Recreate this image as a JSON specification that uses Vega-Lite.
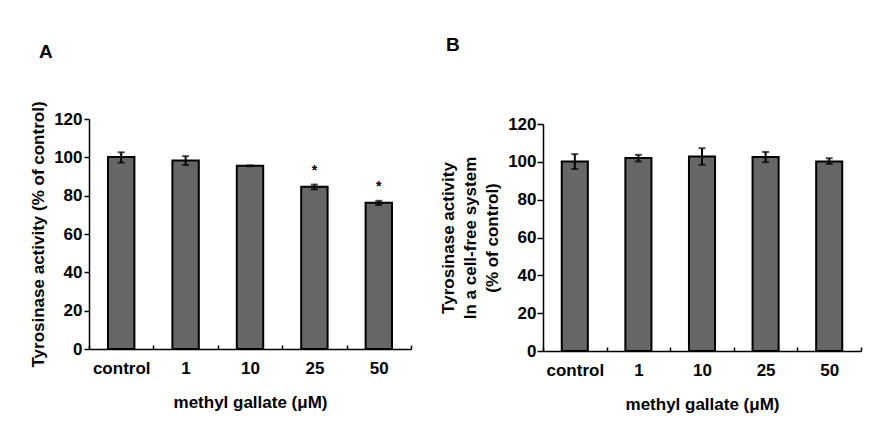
{
  "$schema": "https://vega.github.io/schema/vega-lite/v6.json",
  "background": "white",
  "padding": {"left": 29, "top": 36, "right": 5, "bottom": 5},
  "spacing": 27,
  "config": {
    "font": "Liberation Sans",
    "view": {"stroke": null},
    "axis": {
      "grid": false,
      "labelOverlap": false,
      "titleLineHeight": 22,
      "domainColor": "black", "domainWidth": 1.5,
      "tickColor": "black", "tickWidth": 1.5,
      "labelFont": "Liberation Sans", "labelFontWeight": "bold", "labelFontSize": 17, "labelColor": "black",
      "titleFont": "Liberation Sans", "titleFontWeight": "bold", "titleFontSize": 17, "titleColor": "black"
    },
    "title": {"font": "Liberation Sans", "fontSize": 19, "fontWeight": "bold", "color": "black", "anchor": "start", "frame": "group"}
  },
  "datasets": {
    "a": [
      {"dose": "control", "mean": 100.2, "lo": 97.2, "hi": 102.6, "sig": ""},
      {"dose": "1", "mean": 98.4, "lo": 96.0, "hi": 100.6, "sig": ""},
      {"dose": "10", "mean": 95.6, "lo": 95.4, "hi": 95.8, "sig": ""},
      {"dose": "25", "mean": 84.6, "lo": 83.3, "hi": 85.8, "sig": "*"},
      {"dose": "50", "mean": 76.3, "lo": 75.1, "hi": 77.3, "sig": "*"}
    ],
    "b": [
      {"dose": "control", "mean": 100.2, "lo": 96.2, "hi": 104.1, "sig": ""},
      {"dose": "1", "mean": 102.0, "lo": 100.2, "hi": 103.7, "sig": ""},
      {"dose": "10", "mean": 102.8, "lo": 98.4, "hi": 107.2, "sig": ""},
      {"dose": "25", "mean": 102.6, "lo": 99.8, "hi": 105.2, "sig": ""},
      {"dose": "50", "mean": 100.2, "lo": 98.9, "hi": 101.9, "sig": ""}
    ]
  },
  "hconcat": [
    {
      "width": 322,
      "height": 230,
      "title": {"text": "A", "dx": -50, "offset": 39},
      "data": {"name": "a"},
      "encoding": {
        "x": {
          "field": "dose", "type": "nominal", "sort": null,
          "scale": {"paddingInner": 0, "paddingOuter": 0},
          "axis": {"title": "methyl gallate (μM)", "labelAngle": 0, "tickBand": "extent", "tickSize": -4, "labelPadding": 15, "titlePadding": 18}
        }
      },
      "layer": [
        {
          "mark": {"type": "bar", "width": {"band": 0.41}, "fill": "#666666", "stroke": "black", "strokeWidth": 2},
          "encoding": {
            "y": {
              "field": "mean", "type": "quantitative",
              "scale": {"domain": [0, 120]},
              "axis": {"title": "Tyrosinase activity (% of control)", "values": [0, 20, 40, 60, 80, 100, 120], "labelOverlap": false, "tickSize": 5, "labelPadding": 2, "titlePadding": 6}
            }
          }
        },
        {
          "mark": {"type": "rule", "strokeWidth": 2, "color": "black"},
          "encoding": {
            "y": {"field": "lo", "type": "quantitative", "axis": {"title": "Tyrosinase activity (% of control)", "values": [0, 20, 40, 60, 80, 100, 120], "labelOverlap": false, "tickSize": 5, "labelPadding": 2, "titlePadding": 6}},
            "y2": {"field": "hi"}
          }
        },
        {
          "mark": {"type": "tick", "orient": "horizontal", "size": 7, "thickness": 2, "color": "black"},
          "encoding": {"y": {"field": "hi", "type": "quantitative", "axis": {"title": "Tyrosinase activity (% of control)", "values": [0, 20, 40, 60, 80, 100, 120], "labelOverlap": false, "tickSize": 5, "labelPadding": 2, "titlePadding": 6}}}
        },
        {
          "mark": {"type": "tick", "orient": "horizontal", "size": 7, "thickness": 2, "color": "black"},
          "encoding": {"y": {"field": "lo", "type": "quantitative", "axis": {"title": "Tyrosinase activity (% of control)", "values": [0, 20, 40, 60, 80, 100, 120], "labelOverlap": false, "tickSize": 5, "labelPadding": 2, "titlePadding": 6}}}
        },
        {
          "mark": {"type": "text", "baseline": "middle", "dy": -14, "fontSize": 14, "fontWeight": "bold", "color": "black"},
          "encoding": {"y": {"field": "hi", "type": "quantitative", "axis": {"title": "Tyrosinase activity (% of control)", "values": [0, 20, 40, 60, 80, 100, 120], "labelOverlap": false, "tickSize": 5, "labelPadding": 2, "titlePadding": 6}}, "text": {"field": "sig"}}
        }
      ]
    },
    {
      "width": 318,
      "height": 232,
      "title": {"text": "B", "dx": -97, "offset": 60},
      "data": {"name": "b"},
      "encoding": {
        "x": {
          "field": "dose", "type": "nominal", "sort": null,
          "scale": {"paddingInner": 0, "paddingOuter": 0},
          "axis": {"title": "methyl gallate (μM)", "labelAngle": 0, "tickBand": "extent", "tickSize": -4, "labelPadding": 15, "titlePadding": 18}
        }
      },
      "layer": [
        {
          "mark": {"type": "bar", "width": {"band": 0.41}, "fill": "#666666", "stroke": "black", "strokeWidth": 2},
          "encoding": {
            "y": {
              "field": "mean", "type": "quantitative",
              "scale": {"domain": [0, 120], "range": [232, 5]},
              "axis": {"title": ["Tyrosinase activity", "In a cell-free system", "(% of control)"], "titleLineHeight": 22, "values": [0, 20, 40, 60, 80, 100, 120], "labelOverlap": false, "tickSize": 6, "labelPadding": 1, "titlePadding": 6}
            }
          }
        },
        {
          "mark": {"type": "rule", "strokeWidth": 2, "color": "black"},
          "encoding": {
            "y": {"field": "lo", "type": "quantitative", "axis": {"title": ["Tyrosinase activity", "In a cell-free system", "(% of control)"], "titleLineHeight": 22, "values": [0, 20, 40, 60, 80, 100, 120], "labelOverlap": false, "tickSize": 6, "labelPadding": 1, "titlePadding": 6}},
            "y2": {"field": "hi"}
          }
        },
        {
          "mark": {"type": "tick", "orient": "horizontal", "size": 7, "thickness": 2, "color": "black"},
          "encoding": {"y": {"field": "hi", "type": "quantitative", "axis": {"title": ["Tyrosinase activity", "In a cell-free system", "(% of control)"], "titleLineHeight": 22, "values": [0, 20, 40, 60, 80, 100, 120], "labelOverlap": false, "tickSize": 6, "labelPadding": 1, "titlePadding": 6}}}
        },
        {
          "mark": {"type": "tick", "orient": "horizontal", "size": 7, "thickness": 2, "color": "black"},
          "encoding": {"y": {"field": "lo", "type": "quantitative", "axis": {"title": ["Tyrosinase activity", "In a cell-free system", "(% of control)"], "titleLineHeight": 22, "values": [0, 20, 40, 60, 80, 100, 120], "labelOverlap": false, "tickSize": 6, "labelPadding": 1, "titlePadding": 6}}}
        }
      ]
    }
  ]
}
